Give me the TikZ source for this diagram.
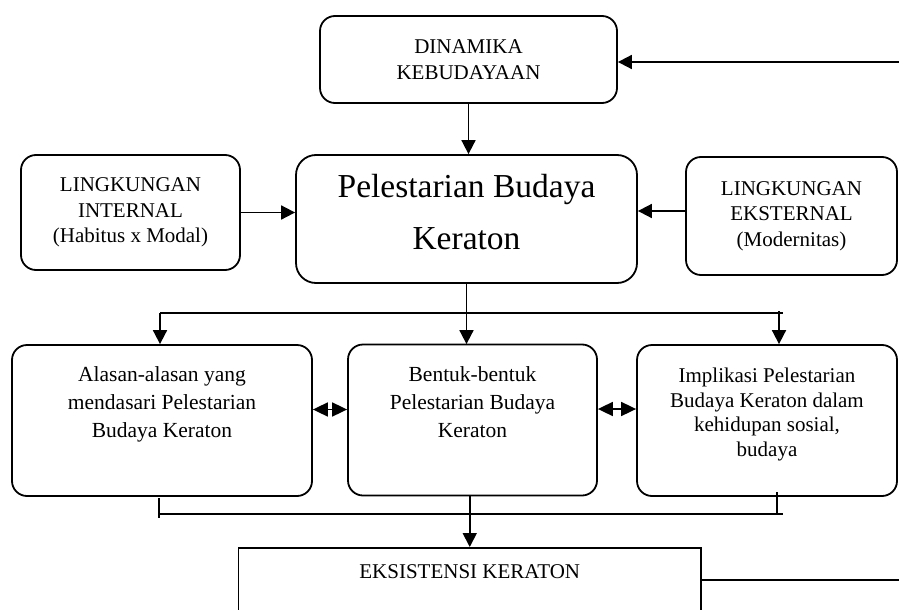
\documentclass[tikz,border=0pt]{standalone}
\usepackage{fontspec}
\setmainfont{Liberation Serif}
\usetikzlibrary{arrows.meta}

\begin{document}
\begin{tikzpicture}[x=1pt, y=-1pt,
	box/.style={draw, line width=1.8pt, rounded corners=15pt, align=center, inner sep=0pt, font=\fontsize{21}{25.5}\selectfont},
	link/.style={line width=1.8pt},
	arr/.style={line width=1.8pt, -{Triangle[length=14pt, width=14pt]}},
	both/.style={line width=1.8pt, {Triangle[length=15pt, width=14pt]}-{Triangle[length=15pt, width=14pt]}}]
	\path[use as bounding box, clip] (0,0) rectangle (899,610);
	\node[box, minimum width=297pt, minimum height=87pt] (dinamika) at (468.5,59.5) {DINAMIKA\\KEBUDAYAAN};
	\node[box, rounded corners=20pt, minimum width=341pt, minimum height=128pt, text depth=14pt, font=\fontsize{33.5}{52}\selectfont] (pelestarian) at (466.5,219) {Pelestarian Budaya\\Keraton};
	\node[box, minimum width=219pt, minimum height=115pt] (internal) at (130.5,212.5) {LINGKUNGAN\\INTERNAL\\(Habitus x Modal)};
	\node[box, minimum width=211pt, minimum height=118pt] (external) at (791.5,216) {LINGKUNGAN\\EKSTERNAL\\(Modernitas)};
	\node[box, minimum width=300pt, minimum height=151pt, font=\fontsize{21.5}{28}\selectfont] (alasan) at (162,420.5) {Alasan-alasan yang\\mendasari Pelestarian\\Budaya Keraton\\ \strut};
	\node[box, minimum width=249pt, minimum height=151pt, font=\fontsize{21.5}{28}\selectfont] (bentuk) at (472.5,420) {Bentuk-bentuk\\Pelestarian Budaya\\Keraton\\ \strut};
	\node[box, minimum width=260pt, minimum height=151pt, text depth=17pt, font=\fontsize{21}{24.5}\selectfont] (implikasi) at (767,420.5) {Implikasi Pelestarian\\Budaya Keraton dalam\\kehidupan sosial,\\budaya};
	\node[draw, line width=1.8pt, anchor=north, minimum width=462.5pt, inner ysep=17pt, text depth=60pt, font=\fontsize{21}{25.5}\selectfont] (eksis) at (469.75,547) {EKSISTENSI KERATON};
	\coordinate (topIn) at (899,62);
	\coordinate (outR) at (899,580);
	\coordinate (splitL) at (160,313);
	\coordinate (splitR) at (783,313);
	\coordinate (dropR) at (779,311);
	\coordinate (joinL) at (159,514);
	\coordinate (joinR) at (783,514);
	\coordinate (tickR) at (777,492);
	\draw[arr] (topIn) -- (topIn -| dinamika.east);
	\draw[arr] (dinamika.south) -- (dinamika.south |- pelestarian.north);
	\draw[arr] (internal.east) -- (internal.east -| pelestarian.west);
	\draw[arr] ([yshift=5pt]external.west) -- ([yshift=5pt]external.west -| pelestarian.east);
	\draw[arr] (pelestarian.south) -- (pelestarian.south |- alasan.north);
	\draw[link] (splitL) -- (splitR);
	\draw[arr] (splitL) -- (splitL |- alasan.north);
	\draw[arr] (dropR) -- (dropR |- implikasi.north);
	\draw[both] ([yshift=11pt]alasan.east) -- ([yshift=11pt]alasan.east -| bentuk.west);
	\draw[both] ([yshift=11pt]bentuk.east) -- ([yshift=11pt]bentuk.east -| implikasi.west);
	\draw[link] (joinL) -- (joinR);
	\draw[link] ([yshift=16pt]joinL) -- ([yshift=-4pt]joinL);
	\draw[link] (tickR) -- (tickR |- joinR);
	\draw[arr] (eksis.north |- bentuk.south) -- (eksis.north);
	\draw[link] (eksis.east |- outR) -- (outR);
\end{tikzpicture}
\end{document}
